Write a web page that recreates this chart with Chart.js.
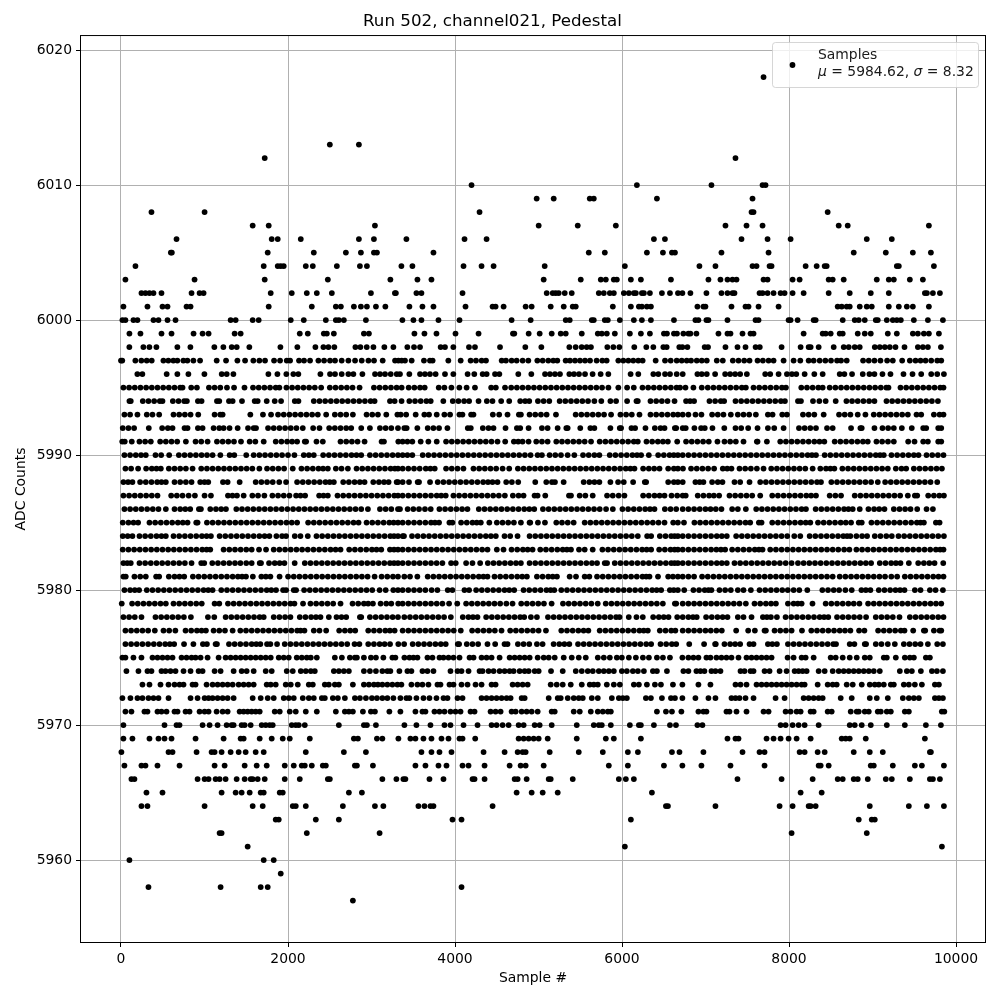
<!DOCTYPE html>
<html>
<head>
<meta charset="utf-8">
<title>Run 502, channel021, Pedestal</title>
<script src="https://cdn.jsdelivr.net/npm/chart.js@4"></script>
<style>
  html, body { margin: 0; padding: 0; background: #fff; }
  canvas { display: block; }
</style>
</head>
<body>
<canvas id="pedestalChart" width="1000" height="1000"></canvas>
<script>
'use strict';
var xTicks = [0, 2000, 4000, 6000, 8000, 10000];
var yTicks = [5960, 5970, 5980, 5990, 6000, 6010, 6020];

// sample numbers, one list per ADC count
var adc6018 = [7695];
var adc6013 = [2501, 2849];
var adc6012 = [1721, 7359];
var adc6010 = [4198, 6178, 7071, 7683, 7719];
var adc6009 = [4978, 5182, 5614, 5662, 6418, 7563];
var adc6008 = [365, 1001, 4294, 7551, 7575, 8463];
var adc6007 = [1577, 1769, 3041, 5002, 5470, 5926, 7239, 7491, 7683, 8595, 8703, 9675];
var adc6006 = [665, 1805, 1877, 2153, 2849, 3029, 3418, 4114, 4378, 6382, 6514, 7431, 7743, 8019, 8931, 9231];
var adc6005 = [597, 609, 1757, 2309, 2693, 2873, 3029, 3065, 3742, 5602, 5794, 6298, 6490, 6598, 6634, 7191, 7755, 8775, 9159, 9483, 9699];
var adc6004 = [173, 1709, 1877, 1913, 1949, 2213, 2297, 2585, 2861, 2945, 3358, 3490, 4102, 4318, 4462, 5074, 6034, 6927, 7119, 7563, 7611, 7767, 7791, 8199, 8331, 8427, 8451, 9291, 9315, 9735];
var adc6003 = [53, 881, 1721, 2477, 3226, 3550, 3718, 5062, 5506, 5746, 5806, 5902, 5938, 6106, 6226, 6586, 7035, 7179, 7263, 7323, 7371, 7695, 7743, 8043, 8127, 8475, 8523, 8655, 9051, 9195, 9255, 9447, 9603];
var adc6002 = [245, 293, 341, 389, 485, 845, 941, 989, 1793, 2045, 2225, 2345, 2525, 2993, 3280, 3292, 3538, 3598, 4090, 5098, 5170, 5206, 5242, 5314, 5398, 5722, 5782, 5854, 5902, 6022, 6082, 6142, 6166, 6238, 6262, 6334, 6478, 6574, 6670, 6723, 6819, 7011, 7191, 7263, 7323, 7347, 7647, 7683, 7743, 7815, 7899, 7947, 8043, 8175, 8475, 8727, 8979, 9195, 9627, 9651, 9723, 9807];
var adc6001 = [29, 317, 497, 557, 785, 833, 1769, 2285, 2573, 2633, 2789, 2873, 2945, 3053, 3166, 3454, 3610, 3742, 4126, 4450, 4486, 4582, 4846, 4918, 5146, 5302, 5410, 5446, 5890, 6106, 6202, 6238, 6298, 6346, 6903, 6975, 6999, 7311, 7479, 7515, 7635, 7875, 8583, 8631, 8691, 8727, 8847, 8931, 8991, 9195, 9315, 9411, 9483, 9675];
var adc6000 = [17, 53, 149, 197, 389, 449, 557, 653, 1313, 1373, 1577, 1649, 2033, 2189, 2453, 2573, 2609, 2669, 2933, 3370, 3502, 3598, 3802, 4054, 4678, 4906, 5326, 5374, 5638, 5662, 5794, 5830, 5974, 6142, 6238, 6346, 6622, 6879, 6915, 7011, 7035, 7263, 7599, 7635, 7995, 8019, 8103, 8295, 8319, 8643, 8787, 8835, 8907, 9039, 9063, 9171, 9243, 9291, 9339, 9495, 9663, 9843];
var adc5999 = [101, 233, 485, 605, 869, 977, 1049, 1361, 1433, 2141, 2237, 2429, 2465, 2549, 2909, 2969, 3514, 3634, 3778, 4006, 4282, 4694, 4710, 4882, 5014, 5158, 5266, 5326, 5518, 5710, 5758, 5818, 5914, 6094, 6226, 6334, 6502, 6538, 6622, 6658, 6735, 6795, 6819, 6891, 7155, 7263, 7299, 7443, 7539, 7575, 8175, 8403, 8439, 8499, 8607, 8643, 8823, 8907, 8979, 9183, 9291, 9483, 9543, 9615, 9675, 9795];
var adc5998 = [100, 268, 340, 424, 675, 831, 1118, 1226, 1326, 1386, 1537, 1909, 2112, 2328, 2424, 2484, 2555, 2807, 2867, 2943, 3023, 3154, 3262, 3429, 3509, 3581, 3828, 3880, 3980, 4167, 4239, 4539, 4842, 5034, 5369, 5445, 5517, 5577, 5628, 5824, 5896, 5968, 6147, 6291, 6375, 6495, 6535, 6686, 6723, 6783, 6990, 7030, 7239, 7383, 7479, 7600, 7650, 7911, 8139, 8235, 8259, 8355, 8535, 8655, 8715, 8787, 8847, 9027, 9087, 9147, 9207, 9275, 9383, 9543, 9603, 9663, 9819];
var adc5997 = [0, 15, 172, 244, 308, 368, 508, 567, 627, 675, 747, 795, 867, 947, 1146, 1258, 1394, 1486, 1585, 1657, 1725, 1833, 1905, 1985, 2025, 2132, 2192, 2264, 2364, 2432, 2503, 2563, 2643, 2723, 2803, 2883, 2963, 3030, 3134, 3282, 3322, 3361, 3401, 3481, 3628, 3700, 3732, 3920, 4068, 4187, 4251, 4319, 4371, 4559, 4610, 4678, 4738, 4810, 4878, 4986, 5050, 5117, 5177, 5225, 5325, 5377, 5437, 5497, 5557, 5617, 5696, 5764, 5816, 5956, 6016, 6076, 6135, 6195, 6247, 6403, 6515, 6583, 6655, 6715, 6775, 6827, 6895, 6955, 7015, 7135, 7207, 7327, 7395, 7463, 7527, 7623, 7687, 7755, 7815, 7935, 8055, 8135, 8235, 8295, 8367, 8435, 8503, 8575, 8623, 8691, 8887, 8955, 9023, 9095, 9175, 9243, 9355, 9447, 9515, 9575, 9635, 9703, 9775, 9823];
var adc5996 = [196, 256, 547, 675, 807, 999, 1206, 1266, 1346, 1765, 1873, 1980, 2064, 2124, 2388, 2503, 2563, 2643, 2723, 2783, 2891, 3042, 3102, 3162, 3230, 3302, 3341, 3453, 3581, 3640, 3700, 3768, 3880, 3980, 4151, 4231, 4331, 4379, 4479, 4531, 4758, 4914, 5078, 5137, 5197, 5257, 5369, 5425, 5485, 5557, 5648, 5744, 5836, 6103, 6195, 6375, 6435, 6515, 6575, 6655, 6727, 6903, 6955, 7015, 7115, 7235, 7295, 7355, 7415, 7495, 7715, 7775, 7875, 7975, 8035, 8087, 8187, 8303, 8403, 8607, 8663, 8755, 8883, 8963, 9023, 9119, 9215, 9371, 9479, 9583, 9703, 9775, 9855];
var adc5995 = [29, 97, 165, 233, 301, 369, 437, 505, 573, 641, 709, 737, 841, 909, 1053, 1121, 1189, 1269, 1354, 1479, 1581, 1649, 1717, 1785, 1853, 1897, 1981, 2049, 2117, 2185, 2253, 2321, 2397, 2501, 2569, 2637, 2705, 2773, 2857, 3029, 3097, 3165, 3233, 3301, 3361, 3445, 3513, 3581, 3637, 3805, 3873, 3957, 4052, 4139, 4239, 4433, 4489, 4599, 4673, 4741, 4809, 4877, 4945, 5013, 5081, 5149, 5217, 5285, 5353, 5421, 5489, 5557, 5625, 5693, 5761, 5837, 5956, 6061, 6141, 6245, 6313, 6381, 6449, 6517, 6585, 6653, 6695, 6760, 6855, 6955, 7027, 7095, 7163, 7231, 7299, 7367, 7435, 7483, 7575, 7643, 7711, 7779, 7847, 7915, 7963, 8147, 8215, 8283, 8351, 8403, 8487, 8555, 8623, 8691, 8759, 8827, 8895, 8963, 9031, 9099, 9165, 9191, 9335, 9403, 9471, 9539, 9607, 9675, 9743, 9811, 9850];
var adc5994 = [101, 117, 261, 329, 397, 465, 497, 621, 689, 757, 789, 921, 965, 1149, 1177, 1293, 1337, 1449, 1601, 1637, 1745, 1841, 1917, 2081, 2125, 2309, 2377, 2445, 2513, 2581, 2649, 2717, 2785, 2853, 2921, 2989, 3037, 3221, 3277, 3360, 3453, 3521, 3589, 3657, 3709, 3860, 3973, 4041, 4109, 4169, 4282, 4381, 4449, 4553, 4649, 4781, 4840, 4889, 4993, 5061, 5129, 5253, 5321, 5389, 5457, 5525, 5593, 5669, 5752, 5861, 5929, 6061, 6173, 6189, 6341, 6409, 6477, 6545, 6629, 6767, 6815, 6863, 7047, 7115, 7183, 7223, 7359, 7427, 7495, 7563, 7631, 7699, 7767, 7835, 7903, 7951, 8107, 8143, 8287, 8363, 8439, 8559, 8687, 8755, 8823, 8891, 8959, 9023, 9167, 9235, 9303, 9371, 9439, 9507, 9575, 9643, 9711, 9783];
var adc5993 = [41, 109, 197, 309, 377, 457, 629, 697, 765, 833, 925, 1121, 1189, 1217, 1549, 1700, 1797, 1881, 1949, 2017, 2085, 2153, 2221, 2289, 2357, 2457, 2561, 2629, 2697, 2777, 2941, 3009, 3077, 3177, 3310, 3350, 3415, 3529, 3633, 3689, 3781, 3873, 3941, 4053, 4089, 4193, 4221, 4453, 4529, 4629, 4765, 4789, 4893, 4961, 5029, 5097, 5209, 5445, 5513, 5581, 5649, 5717, 5785, 5869, 5981, 6049, 6117, 6209, 6341, 6409, 6477, 6545, 6613, 6669, 6727, 6795, 6880, 6951, 7079, 7147, 7215, 7303, 7387, 7455, 7523, 7603, 7747, 7803, 7919, 7975, 8167, 8235, 8303, 8415, 8599, 8667, 8735, 8823, 8915, 9015, 9083, 9151, 9219, 9287, 9355, 9423, 9527, 9583, 9735, 9803, 9850];
var adc5992 = [21, 89, 157, 333, 493, 561, 617, 761, 797, 921, 977, 1109, 1177, 1229, 1300, 1397, 1521, 1589, 1617, 1761, 1829, 1897, 1965, 2033, 2101, 2177, 2301, 2377, 2493, 2561, 2629, 2697, 2757, 2877, 2981, 3101, 3169, 3237, 3317, 3393, 3421, 3549, 3673, 3741, 3809, 3909, 4153, 4189, 4333, 4401, 4461, 4605, 4741, 4781, 4881, 5041, 5109, 5229, 5333, 5349, 5500, 5621, 5669, 5861, 5973, 5989, 6113, 6157, 6281, 6393, 6461, 6509, 6633, 6649, 6727, 6763, 6867, 6947, 6991, 7083, 7225, 7359, 7427, 7511, 7623, 7747, 7823, 7935, 8119, 8187, 8255, 8323, 8455, 8523, 8743, 8855, 8871, 9023, 9119, 9187, 9255, 9351, 9470, 9607, 9643, 9787, 9823];
var adc5991 = [15, 45, 129, 221, 289, 357, 469, 537, 605, 673, 777, 893, 961, 1037, 1149, 1217, 1285, 1353, 1437, 1541, 1609, 1709, 1853, 1921, 1989, 2049, 2109, 2201, 2217, 2341, 2417, 2629, 2697, 2765, 2833, 2917, 3121, 3149, 3321, 3373, 3430, 3489, 3589, 3681, 3781, 3893, 3961, 4029, 4097, 4165, 4233, 4301, 4369, 4437, 4509, 4601, 4705, 4757, 4809, 4881, 4973, 5041, 5109, 5213, 5281, 5349, 5417, 5485, 5553, 5629, 5733, 5801, 5869, 5937, 6005, 6073, 6141, 6189, 6293, 6361, 6429, 6490, 6549, 6661, 6767, 6835, 6903, 6971, 7039, 7143, 7227, 7295, 7363, 7455, 7615, 7623, 7735, 7895, 7963, 8031, 8099, 8167, 8235, 8303, 8365, 8423, 8547, 8615, 8683, 8751, 8819, 8885, 8943, 9047, 9115, 9185, 9255, 9427, 9503, 9607, 9663, 9787, 9823];
var adc5990 = [41, 109, 177, 240, 297, 413, 481, 577, 693, 761, 829, 897, 965, 1030, 1097, 1190, 1301, 1357, 1500, 1589, 1657, 1725, 1793, 1861, 1929, 2000, 2077, 2189, 2250, 2309, 2421, 2489, 2557, 2625, 2693, 2761, 2820, 2877, 2981, 3049, 3117, 3185, 3253, 3317, 3373, 3430, 3489, 3613, 3681, 3749, 3817, 3885, 3953, 4021, 4089, 4157, 4225, 4293, 4361, 4429, 4497, 4565, 4633, 4701, 4769, 4837, 4905, 4989, 5041, 5133, 5201, 5269, 5349, 5429, 5533, 5601, 5669, 5729, 5853, 5921, 5989, 6057, 6125, 6180, 6229, 6321, 6433, 6501, 6569, 6620, 6669, 6727, 6795, 6863, 6931, 6999, 7067, 7135, 7203, 7271, 7339, 7407, 7475, 7543, 7611, 7679, 7747, 7815, 7883, 7951, 8019, 8087, 8155, 8223, 8275, 8323, 8427, 8495, 8563, 8631, 8699, 8767, 8835, 8903, 8971, 9039, 9090, 9135, 9227, 9295, 9363, 9431, 9495, 9551, 9647, 9715, 9783, 9850];
var adc5989 = [53, 121, 205, 301, 369, 425, 477, 573, 641, 709, 777, 857, 961, 1029, 1097, 1165, 1233, 1301, 1369, 1437, 1505, 1573, 1657, 1749, 1817, 1885, 1953, 2057, 2161, 2229, 2297, 2365, 2420, 2477, 2573, 2641, 2717, 2821, 2889, 2957, 3025, 3093, 3161, 3229, 3280, 3317, 3373, 3441, 3509, 3577, 3650, 3705, 3757, 3893, 3961, 4030, 4101, 4221, 4289, 4357, 4425, 4493, 4570, 4649, 4753, 4821, 4889, 4957, 5025, 5093, 5161, 5229, 5297, 5365, 5433, 5501, 5569, 5637, 5705, 5773, 5841, 5909, 5977, 6045, 6100, 6149, 6253, 6321, 6385, 6449, 6553, 6621, 6669, 6730, 6827, 6895, 6963, 7031, 7103, 7207, 7260, 7311, 7407, 7475, 7543, 7615, 7695, 7787, 7855, 7923, 7991, 8059, 8127, 8195, 8283, 8375, 8443, 8495, 8543, 8639, 8707, 8775, 8843, 8911, 8979, 9047, 9115, 9183, 9279, 9347, 9403, 9495, 9563, 9631, 9699, 9767, 9831];
var adc5988 = [29, 85, 137, 229, 297, 365, 433, 485, 537, 641, 709, 777, 845, 949, 1000, 1045, 1221, 1277, 1421, 1613, 1681, 1749, 1817, 1895, 1977, 2109, 2177, 2245, 2313, 2381, 2449, 2500, 2549, 2661, 2729, 2797, 2860, 2917, 3021, 3089, 3150, 3205, 3301, 3317, 3373, 3449, 3553, 3569, 3701, 3793, 3861, 3929, 3997, 4065, 4133, 4201, 4269, 4337, 4395, 4449, 4509, 4613, 4681, 4757, 4961, 5093, 5161, 5197, 5301, 5541, 5609, 5670, 5729, 5861, 5953, 6021, 6133, 6273, 6289, 6553, 6621, 6669, 6727, 6879, 6930, 6975, 7079, 7147, 7203, 7347, 7415, 7527, 7655, 7723, 7791, 7859, 7927, 7995, 8063, 8131, 8199, 8267, 8335, 8383, 8507, 8575, 8643, 8711, 8779, 8847, 8915, 8983, 9063, 9151, 9219, 9287, 9355, 9423, 9491, 9559, 9627, 9695, 9775];
var adc5987 = [29, 97, 165, 233, 301, 369, 437, 601, 669, 737, 810, 885, 1001, 1077, 1281, 1335, 1389, 1469, 1573, 1641, 1717, 1813, 1881, 1949, 2017, 2097, 2150, 2205, 2373, 2425, 2477, 2593, 2661, 2729, 2797, 2865, 2933, 3001, 3069, 3137, 3205, 3273, 3317, 3373, 3441, 3509, 3577, 3645, 3713, 3781, 3835, 3889, 3981, 4049, 4117, 4185, 4253, 4321, 4389, 4457, 4525, 4597, 4693, 4761, 4821, 4953, 4989, 5081, 5365, 5389, 5493, 5561, 5649, 5821, 5889, 5960, 6029, 6253, 6321, 6389, 6450, 6509, 6593, 6661, 6727, 6763, 6907, 6975, 7043, 7100, 7163, 7287, 7355, 7423, 7491, 7559, 7655, 7799, 7867, 7935, 8003, 8071, 8139, 8207, 8265, 8323, 8487, 8555, 8623, 8787, 8855, 8923, 8991, 9059, 9127, 9195, 9263, 9331, 9423, 9507, 9535, 9667, 9735, 9800, 9855];
var adc5986 = [41, 109, 177, 245, 313, 381, 449, 537, 641, 709, 770, 829, 933, 957, 1069, 1137, 1200, 1257, 1381, 1449, 1517, 1585, 1653, 1721, 1789, 1857, 1925, 1993, 2061, 2129, 2197, 2265, 2333, 2401, 2469, 2537, 2605, 2673, 2741, 2809, 2877, 2957, 3101, 3169, 3237, 3317, 3341, 3433, 3501, 3569, 3640, 3709, 3813, 3881, 3949, 4017, 4085, 4149, 4285, 4353, 4421, 4489, 4557, 4625, 4693, 4761, 4829, 4890, 4949, 5053, 5121, 5189, 5257, 5325, 5393, 5461, 5529, 5597, 5665, 5733, 5809, 5890, 6005, 6073, 6141, 6209, 6277, 6335, 6389, 6513, 6581, 6649, 6727, 6795, 6863, 6931, 6999, 7060, 7123, 7191, 7319, 7387, 7483, 7607, 7675, 7743, 7811, 7879, 7947, 8015, 8083, 8151, 8203, 8319, 8387, 8455, 8523, 8591, 8659, 8712, 8763, 8847, 8951, 9019, 9080, 9143, 9255, 9323, 9390, 9455, 9535, 9647, 9723];
var adc5985 = [21, 89, 150, 205, 341, 409, 477, 545, 613, 681, 740, 797, 901, 917, 1029, 1097, 1165, 1233, 1301, 1369, 1437, 1505, 1573, 1641, 1709, 1777, 1845, 1913, 1981, 2045, 2109, 2241, 2309, 2377, 2445, 2513, 2581, 2649, 2717, 2785, 2845, 2941, 3009, 3077, 3145, 3213, 3265, 3317, 3373, 3441, 3509, 3577, 3645, 3713, 3760, 3809, 3933, 3969, 4073, 4141, 4209, 4260, 4309, 4411, 4501, 4569, 4637, 4705, 4789, 4893, 4901, 4993, 5077, 5213, 5281, 5350, 5421, 5553, 5621, 5689, 5757, 5825, 5893, 5961, 6029, 6097, 6165, 6233, 6301, 6369, 6437, 6509, 6613, 6669, 6742, 6867, 6935, 7003, 7071, 7139, 7207, 7275, 7343, 7411, 7479, 7535, 7639, 7671, 7799, 7867, 7935, 8003, 8071, 8139, 8200, 8255, 8347, 8415, 8483, 8551, 8619, 8680, 8743, 8835, 8871, 8987, 9055, 9123, 9191, 9259, 9327, 9395, 9463, 9531, 9575, 9615, 9759, 9803];
var adc5984 = [21, 80, 137, 221, 289, 357, 425, 485, 537, 629, 697, 765, 833, 901, 969, 1025, 1077, 1181, 1249, 1317, 1385, 1453, 1521, 1589, 1657, 1720, 1777, 1861, 1929, 1977, 2081, 2149, 2237, 2341, 2409, 2477, 2545, 2613, 2681, 2749, 2817, 2885, 2953, 3021, 3089, 3157, 3225, 3270, 3317, 3373, 3389, 3485, 3553, 3621, 3689, 3757, 3825, 3893, 3961, 4029, 4097, 4165, 4233, 4301, 4369, 4430, 4489, 4593, 4661, 4749, 4893, 4961, 5029, 5097, 5165, 5233, 5301, 5369, 5437, 5505, 5573, 5641, 5709, 5777, 5845, 5913, 5981, 6049, 6117, 6189, 6301, 6349, 6453, 6521, 6589, 6630, 6669, 6727, 6795, 6863, 6931, 6999, 7067, 7135, 7195, 7255, 7367, 7435, 7503, 7571, 7639, 7707, 7775, 7843, 7911, 7979, 8063, 8135, 8247, 8315, 8383, 8451, 8519, 8587, 8650, 8695, 8735, 8807, 8875, 8935, 9027, 9095, 9165, 9231, 9311, 9379, 9447, 9515, 9583, 9651, 9719, 9787, 9855];
var adc5983 = [21, 89, 157, 225, 293, 361, 429, 497, 565, 633, 701, 769, 837, 905, 973, 1025, 1069, 1229, 1297, 1365, 1433, 1500, 1565, 1653, 1737, 1829, 1897, 1965, 2033, 2101, 2169, 2237, 2305, 2373, 2441, 2510, 2570, 2629, 2733, 2801, 2869, 2937, 3005, 3060, 3117, 3221, 3270, 3317, 3373, 3441, 3509, 3577, 3645, 3713, 3781, 3849, 3917, 3985, 4053, 4121, 4189, 4257, 4325, 4389, 4501, 4581, 4677, 4745, 4813, 4870, 4929, 5021, 5089, 5157, 5225, 5290, 5340, 5389, 5485, 5553, 5649, 5765, 5833, 5901, 5969, 6037, 6105, 6173, 6241, 6295, 6349, 6445, 6513, 6581, 6630, 6669, 6727, 6795, 6863, 6931, 6999, 7067, 7130, 7185, 7235, 7319, 7387, 7455, 7523, 7590, 7640, 7683, 7775, 7843, 7911, 7979, 8047, 8115, 8183, 8251, 8319, 8387, 8455, 8523, 8590, 8660, 8723, 8807, 8875, 8943, 9011, 9079, 9147, 9215, 9283, 9351, 9419, 9487, 9555, 9623, 9691, 9759, 9810, 9850];
var adc5982 = [29, 75, 117, 221, 289, 357, 425, 493, 561, 629, 697, 765, 845, 961, 997, 1093, 1161, 1229, 1297, 1365, 1430, 1500, 1565, 1661, 1677, 1773, 1841, 1900, 1957, 2080, 2201, 2269, 2337, 2405, 2473, 2541, 2609, 2677, 2745, 2813, 2881, 2949, 3017, 3085, 3153, 3221, 3270, 3317, 3373, 3441, 3509, 3577, 3645, 3713, 3780, 3849, 3953, 4009, 4133, 4209, 4301, 4393, 4461, 4529, 4597, 4665, 4730, 4789, 4893, 4961, 5029, 5097, 5165, 5233, 5301, 5369, 5437, 5505, 5573, 5640, 5701, 5793, 5821, 5913, 5981, 6049, 6117, 6185, 6253, 6321, 6389, 6457, 6525, 6590, 6630, 6669, 6727, 6795, 6863, 6931, 6999, 7067, 7135, 7195, 7255, 7347, 7415, 7483, 7551, 7619, 7687, 7755, 7823, 7891, 7960, 8031, 8107, 8175, 8243, 8311, 8379, 8447, 8515, 8583, 8651, 8719, 8787, 8855, 8920, 8983, 9087, 9155, 9223, 9280, 9335, 9435, 9547, 9615, 9680, 9743, 9847];
var adc5981 = [29, 57, 161, 230, 297, 421, 457, 573, 641, 700, 757, 861, 929, 997, 1065, 1133, 1201, 1269, 1337, 1400, 1450, 1497, 1579, 1681, 1735, 1789, 1899, 2001, 2069, 2137, 2205, 2273, 2341, 2409, 2477, 2545, 2613, 2681, 2749, 2817, 2885, 2953, 3037, 3121, 3189, 3257, 3317, 3393, 3461, 3549, 3673, 3741, 3809, 3877, 3945, 4013, 4081, 4149, 4217, 4285, 4340, 4389, 4473, 4541, 4609, 4677, 4745, 4805, 4861, 4981, 5049, 5117, 5170, 5221, 5373, 5449, 5553, 5609, 5701, 5769, 5837, 5905, 5973, 6041, 6109, 6177, 6245, 6290, 6329, 6431, 6553, 6610, 6669, 6727, 6795, 6863, 6959, 7027, 7095, 7163, 7231, 7299, 7367, 7435, 7503, 7571, 7639, 7707, 7775, 7843, 7911, 7979, 8047, 8115, 8183, 8251, 8319, 8387, 8455, 8523, 8607, 8675, 8743, 8811, 8879, 8947, 9015, 9083, 9150, 9225, 9295, 9387, 9455, 9523, 9591, 9659, 9727, 9790, 9850];
var adc5980 = [41, 109, 165, 217, 309, 377, 445, 513, 581, 649, 717, 785, 853, 921, 989, 1045, 1097, 1201, 1269, 1337, 1405, 1473, 1541, 1609, 1677, 1745, 1800, 1857, 1941, 1977, 2069, 2097, 2193, 2261, 2329, 2397, 2465, 2533, 2601, 2669, 2737, 2805, 2873, 2941, 3009, 3097, 3170, 3261, 3317, 3373, 3441, 3509, 3577, 3645, 3720, 3789, 3913, 3969, 4113, 4169, 4253, 4321, 4389, 4457, 4525, 4593, 4650, 4709, 4821, 4889, 4957, 5025, 5095, 5145, 5189, 5273, 5341, 5409, 5477, 5545, 5613, 5681, 5749, 5817, 5885, 5953, 6021, 6089, 6157, 6225, 6293, 6361, 6415, 6469, 6573, 6620, 6669, 6745, 6855, 6923, 6990, 7035, 7071, 7167, 7235, 7303, 7387, 7455, 7543, 7647, 7715, 7783, 7851, 7919, 7985, 8055, 8123, 8219, 8399, 8467, 8535, 8600, 8675, 8751, 8867, 8920, 8975, 9075, 9143, 9211, 9275, 9330, 9383, 9507, 9575, 9687, 9755, 9843];
var adc5979 = [9, 133, 201, 269, 337, 405, 473, 537, 629, 697, 765, 833, 901, 967, 1121, 1177, 1281, 1349, 1417, 1485, 1553, 1621, 1689, 1757, 1825, 1893, 1961, 2029, 2077, 2180, 2269, 2337, 2405, 2473, 2541, 2629, 2773, 2841, 2909, 2960, 3017, 3109, 3177, 3237, 3320, 3373, 3441, 3509, 3577, 3645, 3713, 3781, 3849, 3929, 4027, 4133, 4201, 4269, 4337, 4405, 4473, 4541, 4615, 4689, 4793, 4861, 4929, 4997, 5065, 5157, 5293, 5361, 5429, 5497, 5565, 5633, 5709, 5805, 5873, 5941, 6009, 6077, 6145, 6213, 6281, 6349, 6417, 6489, 6633, 6649, 6727, 6795, 6863, 6931, 6999, 7067, 7135, 7203, 7271, 7339, 7407, 7483, 7587, 7655, 7723, 7785, 7843, 7987, 8055, 8105, 8151, 8281, 8439, 8507, 8575, 8643, 8711, 8775, 8843, 8947, 9015, 9083, 9151, 9219, 9287, 9355, 9423, 9491, 9559, 9627, 9695, 9760, 9823];
var adc5978 = [29, 97, 165, 245, 413, 481, 549, 617, 685, 753, 837, 1041, 1117, 1253, 1321, 1389, 1457, 1525, 1593, 1660, 1709, 1829, 1897, 1965, 2029, 2141, 2209, 2277, 2335, 2389, 2489, 2581, 2641, 2697, 2861, 2877, 2981, 3049, 3117, 3185, 3253, 3317, 3393, 3461, 3529, 3597, 3665, 3733, 3801, 3869, 3950, 4093, 4161, 4215, 4269, 4373, 4441, 4509, 4577, 4645, 4713, 4780, 4829, 4909, 4981, 5113, 5181, 5249, 5317, 5385, 5453, 5521, 5589, 5657, 5725, 5793, 5861, 5929, 5970, 6081, 6173, 6249, 6373, 6441, 6500, 6557, 6661, 6727, 6795, 6850, 6895, 7007, 7075, 7143, 7205, 7263, 7387, 7455, 7551, 7687, 7735, 7783, 7855, 7959, 8027, 8095, 8163, 8231, 8299, 8367, 8420, 8470, 8575, 8643, 8711, 8779, 8847, 8923, 9039, 9107, 9175, 9243, 9323, 9447, 9515, 9583, 9651, 9719, 9787, 9850];
var adc5977 = [53, 121, 189, 257, 325, 405, 509, 577, 651, 773, 841, 909, 965, 1017, 1109, 1177, 1245, 1337, 1429, 1497, 1565, 1633, 1701, 1769, 1837, 1905, 1973, 2041, 2110, 2150, 2197, 2309, 2377, 2457, 2613, 2681, 2745, 2805, 2961, 3029, 3097, 3165, 3220, 3277, 3373, 3441, 3509, 3577, 3645, 3713, 3781, 3849, 3917, 3985, 4069, 4205, 4273, 4341, 4409, 4477, 4557, 4661, 4729, 4797, 4865, 4933, 5001, 5089, 5273, 5341, 5409, 5477, 5540, 5597, 5733, 5801, 5869, 5937, 6005, 6073, 6141, 6209, 6260, 6309, 6453, 6521, 6589, 6639, 6727, 6795, 6863, 6931, 6999, 7063, 7130, 7195, 7367, 7511, 7591, 7707, 7723, 7827, 7895, 7963, 8031, 8155, 8267, 8335, 8403, 8471, 8539, 8607, 8670, 8735, 8839, 8903, 9067, 9135, 9203, 9271, 9339, 9383, 9487, 9615, 9631, 9735, 9803, 9823];
var adc5976 = [53, 121, 189, 257, 325, 393, 461, 529, 585, 637, 755, 867, 981, 1029, 1133, 1149, 1293, 1361, 1429, 1497, 1565, 1620, 1669, 1749, 1789, 1869, 1961, 2029, 2097, 2165, 2233, 2301, 2369, 2437, 2505, 2573, 2641, 2709, 2797, 2855, 2961, 3029, 3097, 3157, 3222, 3321, 3391, 3493, 3561, 3629, 3697, 3765, 3830, 3889, 4033, 4049, 4141, 4209, 4277, 4389, 4481, 4593, 4629, 4753, 4821, 4889, 4981, 5049, 5181, 5249, 5310, 5369, 5473, 5541, 5609, 5677, 5745, 5813, 5881, 5949, 6017, 6085, 6153, 6221, 6290, 6349, 6461, 6529, 6597, 6649, 6805, 6983, 7115, 7123, 7227, 7295, 7355, 7415, 7527, 7575, 7747, 7800, 7855, 7987, 8055, 8123, 8191, 8259, 8327, 8395, 8463, 8530, 8563, 8727, 8783, 8907, 8923, 9039, 9107, 9183, 9267, 9375, 9443, 9511, 9575, 9663, 9775, 9843];
var adc5975 = [17, 53, 149, 245, 377, 437, 497, 557, 617, 725, 785, 845, 893, 953, 1037, 1169, 1253, 1313, 1373, 1433, 1493, 1553, 1613, 1673, 1733, 1793, 1889, 1949, 2009, 2105, 2165, 2225, 2273, 2345, 2561, 2645, 2741, 2801, 2825, 2909, 2993, 3053, 3142, 3250, 3286, 3394, 3454, 3502, 3550, 3670, 3730, 3814, 3862, 3922, 3982, 4054, 4174, 4222, 4318, 4378, 4438, 4534, 4654, 4714, 4774, 4834, 4894, 4990, 5062, 5122, 5194, 5302, 5398, 5482, 5566, 5710, 5782, 5854, 5938, 5998, 6082, 6166, 6250, 6322, 6418, 6490, 6574, 6723, 6795, 6855, 6915, 7011, 7059, 7131, 7191, 7251, 7311, 7395, 7491, 7551, 7611, 7671, 7731, 7791, 7983, 8055, 8151, 8199, 8295, 8499, 8559, 8643, 8727, 8811, 8907, 8967, 9135, 9171, 9279, 9387, 9447, 9495, 9639, 9687];
var adc5974 = [65, 209, 317, 365, 485, 533, 593, 653, 749, 833, 929, 977, 1121, 1193, 1349, 1445, 1505, 1589, 1733, 1805, 1985, 2057, 2153, 2213, 2273, 2321, 2549, 2609, 2669, 2729, 2909, 2981, 3053, 3130, 3190, 3226, 3334, 3430, 3478, 3610, 3670, 3742, 3946, 4030, 4078, 4162, 4294, 4330, 4402, 4462, 4534, 4594, 4654, 4702, 4774, 4834, 4882, 4954, 5002, 5150, 5290, 5446, 5518, 5590, 5650, 5722, 5782, 5842, 5902, 5998, 6058, 6130, 6190, 6262, 6370, 6418, 6538, 6735, 6795, 6891, 6939, 6987, 7071, 7119, 7179, 7419, 7467, 7539, 7575, 7707, 7767, 7887, 7971, 8067, 8115, 8163, 8211, 8355, 8427, 8523, 8595, 8655, 8715, 8775, 8835, 8895, 8955, 9015, 9087, 9327, 9411, 9471, 9579, 9711, 9771, 9843];
var adc5973 = [257, 341, 473, 569, 641, 701, 749, 857, 893, 1025, 1097, 1157, 1217, 1277, 1337, 1409, 1469, 1529, 1589, 1745, 1793, 1853, 1973, 2033, 2117, 2249, 2297, 2441, 2489, 2561, 2609, 2777, 2909, 2969, 3029, 3077, 3130, 3190, 3250, 3310, 3358, 3478, 3550, 3610, 3682, 3790, 3826, 3934, 3982, 4078, 4150, 4246, 4318, 4438, 4486, 4690, 4750, 4810, 4870, 5146, 5218, 5290, 5386, 5518, 5614, 5662, 5710, 5818, 5902, 5974, 6142, 6202, 6298, 6394, 6466, 6610, 6723, 6915, 7059, 7359, 7419, 7491, 7611, 7671, 7731, 7791, 7851, 7911, 7971, 8031, 8091, 8151, 8187, 8343, 8463, 8523, 8571, 8691, 8763, 8871, 8967, 9027, 9075, 9135, 9219, 9255, 9375, 9435, 9507, 9591, 9747, 9795];
var adc5972 = [17, 113, 197, 257, 329, 389, 449, 569, 833, 917, 1001, 1049, 1097, 1157, 1217, 1277, 1349, 1577, 1673, 1757, 1829, 1949, 2009, 2069, 2177, 2249, 2309, 2405, 2441, 2537, 2597, 2681, 2801, 2861, 2933, 3005, 3065, 3130, 3190, 3262, 3346, 3418, 3454, 3538, 3622, 3694, 3778, 3862, 3910, 4030, 4090, 4318, 4378, 4438, 4498, 4558, 4618, 4666, 4798, 4834, 5122, 5230, 5266, 5350, 5422, 5482, 5530, 5638, 5710, 5878, 5962, 6010, 6058, 6286, 6346, 6478, 6586, 6634, 6723, 6879, 7035, 7119, 7311, 7359, 7407, 7479, 7575, 7839, 7947, 8175, 8235, 8295, 8355, 8403, 8619, 8751, 8967, 9051, 9183, 9363, 9435, 9495, 9555, 9747, 9795, 9843];
var adc5971 = [53, 125, 281, 317, 437, 485, 545, 641, 677, 773, 821, 941, 1001, 1049, 1145, 1217, 1277, 1421, 1469, 1517, 1565, 1613, 1661, 1841, 1901, 2021, 2093, 2213, 2345, 2573, 2681, 2729, 2777, 2897, 2993, 3041, 3214, 3346, 3526, 3610, 3646, 3754, 3814, 3874, 3946, 4006, 4066, 4186, 4234, 4426, 4486, 4546, 4678, 4726, 4798, 4858, 4918, 4990, 5158, 5194, 5422, 5494, 5626, 5710, 5770, 5830, 5866, 6418, 6526, 6598, 6711, 6915, 6975, 7011, 7251, 7287, 7371, 7491, 7695, 7755, 7959, 8019, 8091, 8139, 8259, 8295, 8463, 8511, 8739, 8811, 8835, 8907, 8955, 9063, 9099, 9171, 9219, 9387, 9435, 9830, 9860];
var adc5970 = [29, 521, 665, 701, 977, 1061, 1157, 1265, 1325, 1349, 1445, 1481, 1553, 1685, 1733, 1781, 1817, 2045, 2093, 2129, 2201, 2609, 2909, 2945, 3053, 3394, 3538, 3706, 3874, 3946, 4102, 4270, 4438, 4498, 4570, 4642, 4762, 4822, 4954, 5014, 5158, 5458, 5662, 5722, 5758, 5866, 6094, 6202, 6226, 6382, 6574, 6646, 6903, 6963, 7899, 7959, 8043, 8115, 8187, 8355, 8727, 8787, 8871, 8979, 9171, 9387, 9639, 9819];
var adc5969 = [29, 137, 341, 449, 521, 605, 893, 1229, 1433, 1469, 1661, 1805, 1937, 2021, 2261, 2789, 2837, 3065, 3130, 3322, 3466, 3526, 3622, 3718, 3838, 3922, 4054, 4090, 4242, 4762, 4822, 4882, 4942, 5002, 5110, 5458, 5806, 5902, 6226, 7263, 7359, 7395, 7731, 7815, 7899, 7995, 8091, 8259, 8631, 8679, 8727, 8919, 9627];
var adc5968 = [5, 569, 617, 905, 1085, 1121, 1205, 1313, 1409, 1493, 1613, 1709, 2213, 2669, 2933, 3598, 3718, 3814, 3958, 4342, 4594, 4750, 4810, 4846, 5134, 5482, 5770, 6070, 6190, 6598, 6688, 6975, 7443, 7647, 7707, 8127, 8187, 8343, 8427, 8775, 8967, 9123, 9687, 9699];
var adc5967 = [41, 245, 293, 437, 701, 1121, 1241, 1481, 1625, 1745, 1961, 2069, 2165, 2201, 2285, 2417, 2453, 2801, 2825, 3017, 3526, 3646, 3802, 3898, 4090, 4162, 4354, 4654, 4786, 4846, 5062, 5842, 6070, 6502, 6723, 6951, 7299, 7707, 8355, 8379, 8475, 8979, 9015, 9243, 9507, 9591, 9855];
var adc5966 = [125, 161, 917, 1001, 1049, 1133, 1181, 1253, 1385, 1481, 1553, 1577, 1637, 1721, 1961, 2141, 2477, 2501, 3130, 3298, 3382, 3406, 3694, 3862, 4210, 4234, 4354, 4714, 4750, 4858, 5122, 5146, 5410, 5962, 6046, 6142, 7383, 7911, 8283, 8583, 8643, 8775, 8823, 8943, 9159, 9231, 9447, 9687, 9723, 9807];
var adc5965 = [305, 497, 1205, 1373, 1445, 1541, 1673, 1709, 1901, 1937, 2729, 2885, 4738, 4918, 5050, 5230, 6358, 8139, 8391];
var adc5964 = [245, 317, 1001, 1577, 1697, 2057, 2093, 2213, 2657, 3041, 3142, 3562, 3634, 3706, 3742, 4450, 6526, 6550, 7119, 7887, 8043, 8235, 8259, 8319, 8967, 9435, 9651, 9855];
var adc5963 = [1853, 1889, 2333, 2609, 3970, 4078, 6106, 8835, 8991, 9027];
var adc5962 = [1181, 1205, 2225, 3097, 8031, 8931];
var adc5961 = [1517, 6034, 9831];
var adc5960 = [101, 1709, 1829];
var adc5959 = [1913];
var adc5958 = [329, 1193, 1673, 1757, 4078];
var adc5957 = [2777];

var adcLevels = [
  [6018, adc6018], [6013, adc6013], [6012, adc6012], [6010, adc6010], [6009, adc6009], [6008, adc6008],
  [6007, adc6007], [6006, adc6006], [6005, adc6005], [6004, adc6004], [6003, adc6003], [6002, adc6002],
  [6001, adc6001], [6000, adc6000], [5999, adc5999], [5998, adc5998], [5997, adc5997], [5996, adc5996],
  [5995, adc5995], [5994, adc5994], [5993, adc5993], [5992, adc5992], [5991, adc5991], [5990, adc5990],
  [5989, adc5989], [5988, adc5988], [5987, adc5987], [5986, adc5986], [5985, adc5985], [5984, adc5984],
  [5983, adc5983], [5982, adc5982], [5981, adc5981], [5980, adc5980], [5979, adc5979], [5978, adc5978],
  [5977, adc5977], [5976, adc5976], [5975, adc5975], [5974, adc5974], [5973, adc5973], [5972, adc5972],
  [5971, adc5971], [5970, adc5970], [5969, adc5969], [5968, adc5968], [5967, adc5967], [5966, adc5966],
  [5965, adc5965], [5964, adc5964], [5963, adc5963], [5962, adc5962], [5961, adc5961], [5960, adc5960],
  [5959, adc5959], [5958, adc5958], [5957, adc5957]
];

var samplePoints = [];
adcLevels.forEach(function(level) {
  level[1].forEach(function(sample) {
    samplePoints.push({ x: sample, y: level[0] });
  });
});

var fontName = '"DejaVu Sans"';

// box round the plot and the matplotlib style legend
var framePlugin = {
  id: 'frame',
  afterDraw: function(chart) {
    var ctx = chart.ctx;
    var area = chart.chartArea;
    ctx.save();
    ctx.strokeStyle = '#000';
    ctx.lineWidth = 1;
    ctx.strokeRect(area.left - 0.5, area.top - 0.5, area.right - area.left + 1, area.bottom - area.top + 1);

    ctx.beginPath();
    ctx.roundRect(772.5, 42.5, 206, 45, 3);
    ctx.fillStyle = 'rgba(255,255,255,0.8)';
    ctx.fill();
    ctx.strokeStyle = 'rgba(204,204,204,0.8)';
    ctx.stroke();

    ctx.fillStyle = '#000';
    ctx.beginPath();
    ctx.arc(792.5, 65, 2.9, 0, Math.PI * 2);
    ctx.fill();

    ctx.fillStyle = '#1a1a1a';
    ctx.textBaseline = 'alphabetic';
    ctx.textAlign = 'left';
    ctx.font = '13.9px ' + fontName;
    ctx.fillText('Samples', 818, 59);
    var parts = [['\u03bc', true], [' = 5984.62, ', false], ['\u03c3', true], [' = 8.32', false]];
    var textX = 818;
    parts.forEach(function(part) {
      ctx.font = (part[1] ? 'italic ' : '') + '13.9px ' + fontName;
      ctx.fillText(part[0], textX, 76);
      textX += ctx.measureText(part[0]).width;
    });
    ctx.restore();
  }
};

var pedestalChart = new Chart(document.getElementById('pedestalChart').getContext('2d'), {
  type: 'scatter',
  data: {
    datasets: [{
      label: 'Samples',
      data: samplePoints,
      backgroundColor: '#000',
      borderWidth: 0,
      pointRadius: 2.9,
      pointHoverRadius: 2.9
    }]
  },
  options: {
    responsive: false,
    animation: false,
    devicePixelRatio: 1,
    layout: { padding: { left: 0, right: 15, top: 0, bottom: 0 } },
    plugins: {
      legend: { display: false },
      tooltip: { enabled: false },
      title: {
        display: true,
        text: 'Run 502, channel021, Pedestal',
        color: '#000',
        font: { family: fontName, size: 16.7, weight: 'normal', lineHeight: 1.2 },
        padding: { top: 12, bottom: 4 }
      }
    },
    scales: {
      x: {
        type: 'linear',
        min: -479,
        max: 10347,
        afterBuildTicks: function(scale) {
          scale.ticks = xTicks.map(function(v) { return { value: v }; });
        },
        afterFit: function(scale) { scale.height = 58; },
        grid: { color: '#b0b0b0', lineWidth: 1, tickColor: '#000', tickLength: 5 },
        border: { display: false },
        ticks: {
          color: '#000',
          padding: 4,
          maxRotation: 0,
          autoSkip: false,
          font: { family: fontName, size: 13.9 },
          callback: function(v) { return String(v); }
        },
        title: {
          display: true,
          text: 'Sample #',
          color: '#000',
          font: { family: fontName, size: 13.9 },
          padding: { top: 4, bottom: 13 }
        }
      },
      y: {
        type: 'linear',
        min: 5953.93,
        max: 6021.04,
        afterBuildTicks: function(scale) {
          scale.ticks = yTicks.map(function(v) { return { value: v }; });
        },
        afterFit: function(scale) { scale.width = 81; },
        grid: { color: '#b0b0b0', lineWidth: 1, tickColor: '#000', tickLength: 5 },
        border: { display: false },
        ticks: {
          color: '#000',
          padding: 4,
          autoSkip: false,
          font: { family: fontName, size: 13.9 },
          callback: function(v) { return String(v); }
        },
        title: {
          display: true,
          text: 'ADC Counts',
          color: '#000',
          font: { family: fontName, size: 13.9 },
          padding: { top: 13, bottom: 4 }
        }
      }
    }
  },
  plugins: [framePlugin]
});
</script>
</body>
</html>
